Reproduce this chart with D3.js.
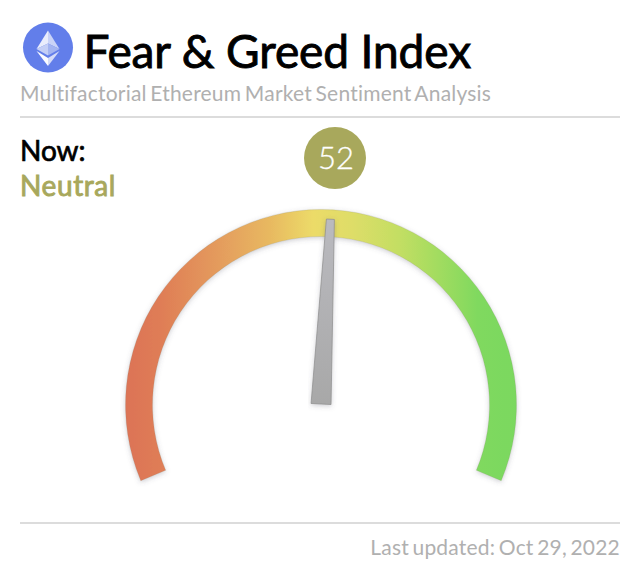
<!DOCTYPE html>
<html><head><meta charset="utf-8">
<script src="https://cdn.jsdelivr.net/npm/d3@7"></script>
<style>html,body{margin:0;padding:0;background:#fff}svg{display:block}text{font-family:Lato,"Open Sans",sans-serif}</style>
</head><body><svg id="c" width="640" height="570"></svg>
<script>
const title = "Fear & Greed Index";
const subtitle = "Multifactorial Ethereum Market Sentiment Analysis";
const nowLabel = "Now:";
const stateLabel = "Neutral";
const updated = "Last updated: Oct 29, 2022";
const gaugeValue = 52;
const gaugeMin = 0, gaugeMax = 100;
const stopOffsets = [0, 0.09, 0.24, 0.37, 0.48, 0.58, 0.70, 0.80, 0.90, 1];
const stopColors = ["#dc7356", "#df7d56", "#e49c5d", "#e8b961", "#ecdb68", "#dedd68", "#c3de63", "#a2dc60", "#80d95e", "#7ad85e"];

const svg = d3.select("#c");
const cx = 321, cy = 405, rO = 195.5, rI = 168.5;
const angle = d3.scaleLinear().domain([gaugeMin, gaugeMax]).range([-112.8, 112.8].map(d => d * Math.PI / 180));
const needleAngle = d3.scaleLinear().domain([gaugeMin, gaugeMax]).range([-114.1, 110.9]);

const defs = svg.append("defs");
const f = defs.append("filter").attr("id", "sh").attr("x", "-10%").attr("y", "-10%").attr("width", "120%").attr("height", "120%");
f.append("feDropShadow").attr("dx", 0).attr("dy", 1.5).attr("stdDeviation", 2.5).attr("flood-color", "#556").attr("flood-opacity", 0.28);
const ng = defs.append("linearGradient").attr("id", "ng").attr("x1", 0).attr("y1", 0).attr("x2", 0).attr("y2", 1);
ng.append("stop").attr("offset", 0).attr("stop-color", "#bababf");
ng.append("stop").attr("offset", 1).attr("stop-color", "#a8a8a8");
const bg = defs.append("linearGradient").attr("id", "bg").attr("gradientUnits", "userSpaceOnUse")
  .attr("x1", -rO).attr("x2", rO).attr("y1", 0).attr("y2", 0);
bg.selectAll("stop").data(stopOffsets).join("stop")
  .attr("offset", d => d).attr("stop-color", (d, i) => stopColors[i]);

// header
svg.append("circle").attr("cx", 48).attr("cy", 47.5).attr("r", 25).attr("fill", "#627eea");
const eth = svg.append("g").attr("transform", "translate(48,47.5)");
const facets = [
  ["#e9edfc", [[0,-17],[-11.5,1.5],[0,-4]]],
  ["#c9d3f7", [[0,-17],[11.5,1.5],[0,-4]]],
  ["#c4cff6", [[0,-4],[-11.5,1.5],[0,8]]],
  ["#a3b4f1", [[0,-4],[11.5,1.5],[0,8]]],
  ["#fbfcff", [[-11.5,3.5],[0,18.5],[0,10.5]]],
  ["#d5dcf8", [[11.5,3.5],[0,18.5],[0,10.5]]]
];
eth.selectAll("path").data(facets).join("path")
  .attr("fill", d => d[0]).attr("d", d => d3.line()(d[1]) + "Z");

svg.append("text").attr("x", 83.5).attr("y", 68).attr("font-size", 46).attr("fill", "#000")
  .attr("stroke", "#000").attr("stroke-width", 0.9).attr("letter-spacing", -0.1).attr("word-spacing", 0).text(title);
svg.append("text").attr("x", 20).attr("y", 100.5).attr("font-size", 21).attr("fill", "#b0b0b0")
  .attr("letter-spacing", 0.21).attr("word-spacing", -2).text(subtitle);
svg.append("line").attr("x1", 20).attr("x2", 620).attr("y1", 117).attr("y2", 117).attr("stroke", "#dcdcdc").attr("stroke-width", 2);
svg.append("text").attr("x", 20).attr("y", 161).attr("font-size", 28).attr("fill", "#000")
  .attr("stroke", "#000").attr("stroke-width", 0.7).text(nowLabel);
svg.append("text").attr("x", 20).attr("y", 196).attr("font-size", 28).attr("fill", "#a8a85c")
  .attr("stroke", "#a8a85c").attr("stroke-width", 0.9).attr("letter-spacing", 0.6).text(stateLabel);

// value badge
svg.append("circle").attr("cx", 335).attr("cy", 158).attr("r", 31).attr("fill", "#a8a85c");
svg.append("text").attr("x", 336).attr("y", 169).attr("text-anchor", "middle").attr("font-size", 31).attr("font-weight", 300)
  .attr("fill", "#fff").attr("stroke", "#fff").attr("stroke-width", 0.3).text(gaugeValue);

// gauge
const arc = d3.arc().innerRadius(rI).outerRadius(rO);
const g = svg.append("g").attr("transform", `translate(${cx},${cy})`);
g.append("path").attr("filter", "url(#sh)")
  .attr("d", arc({startAngle: angle(gaugeMin), endAngle: angle(gaugeMax)}))
  .attr("fill", "url(#bg)").attr("stroke", "#8a8a7a").attr("stroke-opacity", 0.3).attr("stroke-width", 0.7);

// needle
const needle = d3.area().x0(d => -d.w).x1(d => d.w).y(d => -d.r);
const needlePts = [{r: 1, w: 10}, {r: 186, w: 4}];
const ng2 = g.append("g").attr("filter", "url(#sh)").append("g").attr("transform", `rotate(${needleAngle(gaugeValue)})`);
ng2.append("path").attr("d", needle(needlePts)).attr("fill", "url(#ng)").attr("stroke", "#8e8e8e").attr("stroke-width", 0.7);

// footer
svg.append("line").attr("x1", 20).attr("x2", 620).attr("y1", 523).attr("y2", 523).attr("stroke", "#dcdcdc").attr("stroke-width", 2);
svg.append("text").attr("x", 620).attr("y", 555).attr("text-anchor", "end").attr("font-size", 21).attr("fill", "#b0b0b0")
  .attr("letter-spacing", 0.2).attr("word-spacing", -2).text(updated);
</script></body></html>
